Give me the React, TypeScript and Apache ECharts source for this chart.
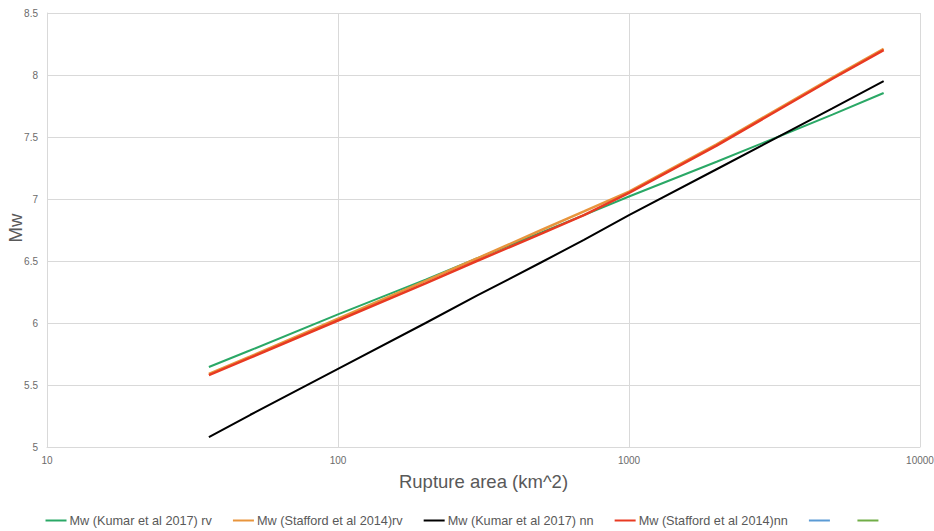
import React, { useEffect, useRef } from "react";
import * as echarts from "echarts";

const areas = [36, 50, 100, 200, 300, 500, 700, 1000, 2000, 5000, 7500];
const kumarRv = [5.645, 5.78, 6.07, 6.35, 6.52, 6.73, 6.87, 7.02, 7.3, 7.68, 7.855];
const staffordRv = [5.59, 5.73, 6.035, 6.34, 6.52, 6.75, 6.9, 7.06, 7.44, 7.98, 8.21];
const kumarNn = [5.08, 5.26, 5.63, 6.0, 6.22, 6.49, 6.67, 6.87, 7.24, 7.73, 7.95];
const staffordNn = [5.58, 5.72, 6.02, 6.32, 6.5, 6.72, 6.87, 7.05, 7.43, 7.97, 8.2];

const seriesNames = [
  "Mw (Kumar et al 2017) rv",
  "Mw (Stafford et al 2014)rv",
  "Mw (Kumar et al 2017) nn",
  "Mw (Stafford et al 2014)nn",
  " ",
  "  ",
];
const seriesColors = ["#2aa866", "#e8953c", "#000000", "#e83a22", "#5b9bd5", "#70ad47"];
const seriesValues = [kumarRv, staffordRv, kumarNn, staffordNn, [], []];
const seriesWidths = [2, 2.5, 2, 2.5, 2, 2];

const FONT = "'Liberation Sans', Arial, sans-serif";

export default function App() {
  const ref = useRef<HTMLDivElement>(null);
  useEffect(() => {
    if (!ref.current) return;
    const chart = echarts.init(ref.current, null, { renderer: "svg" });
    chart.setOption({
      animation: false,
      backgroundColor: "#ffffff",
      textStyle: { fontFamily: FONT },
      grid: {
        left: 47,
        right: 14,
        top: 13,
        bottom: 84,
        containLabel: false,
        outerBoundsMode: "none",
      },
      graphic: [
        {
          type: "text",
          x: 15,
          y: 228,
          rotation: Math.PI / 2,
          style: {
            text: "Mw",
            align: "center",
            verticalAlign: "middle",
            fill: "#595959",
            fontSize: 18.5,
            fontFamily: FONT,
          },
        },
      ],
      xAxis: {
        type: "log",
        logBase: 10,
        min: 10,
        max: 10000,
        name: "Rupture area (km^2)",
        nameLocation: "middle",
        nameGap: 25,
        nameMoveOverlap: false,
        nameTextStyle: { color: "#595959", fontSize: 18.5, fontFamily: FONT },
        axisLine: { show: true, lineStyle: { color: "#d9d9d9" } },
        axisTick: { show: false },
        axisLabel: {
          color: "#6b6b6b",
          fontSize: 10,
          margin: 8,
          fontFamily: FONT,
          formatter: (v: number) => String(Math.round(v)),
        },
        splitLine: { show: true, lineStyle: { color: "#d9d9d9" } },
        minorTick: { show: false },
      },
      yAxis: {
        type: "value",
        min: 5,
        max: 8.5,
        interval: 0.5,
        axisLine: { show: true, lineStyle: { color: "#d9d9d9" } },
        axisTick: { show: false },
        axisLabel: { color: "#6b6b6b", fontSize: 10, margin: 9, fontFamily: FONT },
        splitLine: { show: true, lineStyle: { color: "#d9d9d9" } },
      },
      legend: {
        top: 509,
        left: "center",
        itemGap: 21,
        itemWidth: 21,
        itemHeight: 2,
        icon: "rect",
        textStyle: { color: "#595959", fontSize: 12.7, fontFamily: FONT, padding: [0, 0, 0, -2] },
        data: seriesNames,
      },
      series: seriesNames.map((name, i) => ({
        name,
        type: "line",
        showSymbol: false,
        symbol: "none",
        smooth: false,
        color: seriesColors[i],
        lineStyle: { color: seriesColors[i], width: seriesWidths[i] },
        data: (seriesValues[i] as number[]).map((v, j) => [areas[j], v]),
      })),
    });
    return () => chart.dispose();
  }, []);
  return (
    <div
      ref={ref}
      style={{ position: "absolute", left: 0, top: 0, width: 934, height: 531 }}
    />
  );
}
